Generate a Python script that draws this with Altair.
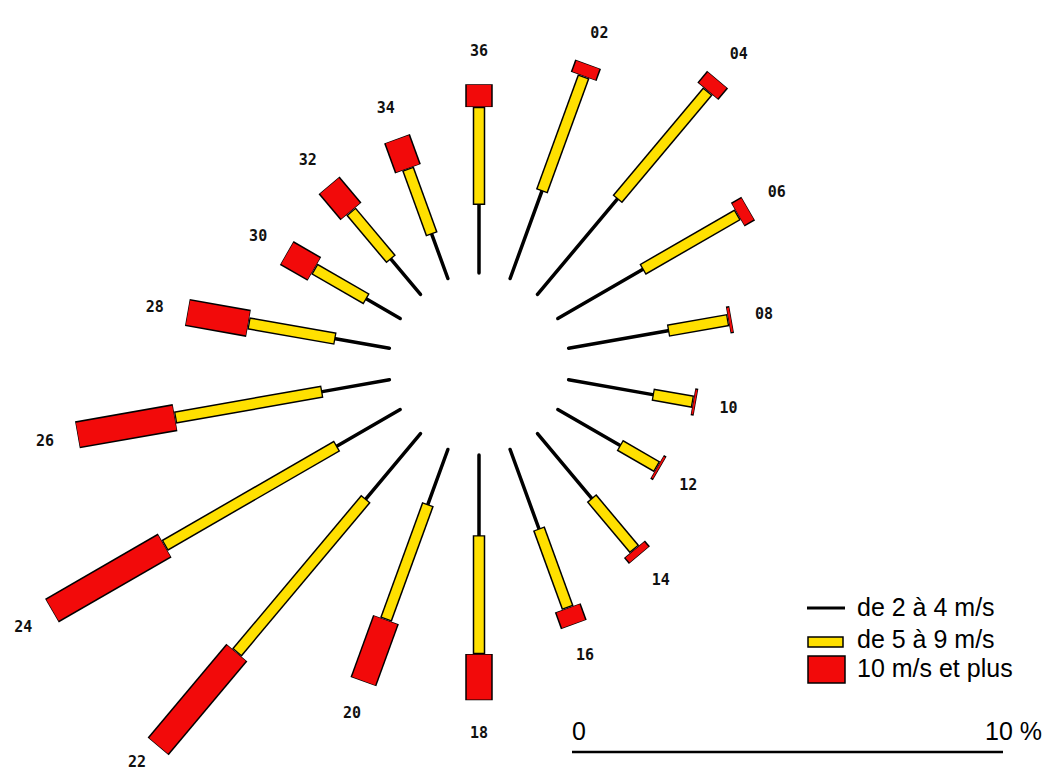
import altair as alt
import pandas as pd

# ---- data read from the wind rose (percent of observations) ----
DIRECTIONS = ["02", "04", "06", "08", "10", "12", "14", "16", "18",
              "20", "22", "24", "26", "28", "30", "32", "34", "36"]
ANGLES = [20, 40, 60, 80, 100, 120, 140, 160, 180,
          200, 220, 240, 260, 280, 300, 320, 340, 360]
# de 2 à 4 m/s
LOW = [2.15, 2.88, 2.27, 2.34, 1.98, 1.66, 1.95, 1.95, 1.86,
       1.35, 1.97, 1.69, 1.58, 1.27, 0.90, 1.06, 1.09, 1.58]
# de 5 à 9 m/s
MID = [2.84, 3.27, 2.55, 1.42, 0.95, 1.00, 1.55, 1.96, 2.76,
       2.85, 4.66, 4.62, 3.47, 2.05, 1.40, 1.45, 1.62, 2.27]
# 10 m/s et plus
HIGH = [0.30, 0.35, 0.28, 0.08, 0.07, 0.07, 0.18, 0.41, 1.07,
        1.53, 2.84, 3.02, 2.30, 1.44, 0.74, 0.79, 0.74, 0.53]

LEGEND_LABELS = ["de 2 à 4 m/s", "de 5 à 9 m/s", "10 m/s et plus"]
SCALE_LABELS = ["0", "10 %"]
SCALE_LENGTH = 10  # percent

# ---- layout constants ----
PX = 43.1             # pixels per percent
INNER = 91 / PX       # radius of the empty central circle (percent units)
LABEL_GAP = 33 / PX
D = 1.3 / PX          # outline thickness at bar ends
W, H = 1035, 766
XMIN = -471 / PX
XMAX = XMIN + W / PX
YMAX = 356 / PX
YMIN = YMAX - H / PX
LABEL_FLOOR = YMIN + 12 / PX   # keep direction labels inside the drawing

YELLOW = "#FFE000"
RED = "#F20A0A"

xs = alt.Scale(domain=[XMIN, XMAX], nice=False, zero=False)
ys = alt.Scale(domain=[YMIN, YMAX], nice=False, zero=False)

df = pd.DataFrame({"dir": DIRECTIONS, "angle": ANGLES,
                   "low": LOW, "mid": MID, "high": HIGH})

base = alt.Chart(df).transform_calculate(
    t="datum.angle * PI / 180",
    r1=f"{INNER} + datum.low",
).transform_calculate(
    r2="datum.r1 + datum.mid",
).transform_calculate(
    r3="datum.r2 + datum.high",
)


def seg(a, b, width, color, d0=0.0, d1=0.0, cap="butt"):
    return base.transform_calculate(
        xa=f"({a} + {d0}) * sin(datum.t)",
        ya=f"({a} + {d0}) * cos(datum.t)",
        xb=f"({b} - {d1}) * sin(datum.t)",
        yb=f"({b} - {d1}) * cos(datum.t)",
    ).mark_rule(strokeWidth=width, color=color, strokeCap=cap).encode(
        x=alt.X("xa:Q", scale=xs, axis=None),
        y=alt.Y("ya:Q", scale=ys, axis=None),
        x2="xb:Q",
        y2="yb:Q",
    )


low_line = seg(f"{INNER}", "datum.r1", 3.5, "black", cap="round")
mid_out = seg("datum.r1", "datum.r2", 12.5, "black")
mid_fill = seg("datum.r1", "datum.r2", 9.5, YELLOW, D, D)
high_out = seg("datum.r2", "datum.r3", 27.5, "black")
high_fill = seg("datum.r2", "datum.r3", 24.5, RED, D * 0.5, D * 0.5)

labels = base.transform_calculate(
    xl=f"(datum.r3 + {LABEL_GAP}) * sin(datum.t)",
    yl=f"max({LABEL_FLOOR}, (datum.r3 + {LABEL_GAP}) * cos(datum.t))",
).mark_text(font="DejaVu Sans Mono", fontWeight="bold", fontSize=15,
            align="center", baseline="middle", color="#111").encode(
    x=alt.X("xl:Q", scale=xs, axis=None),
    y=alt.Y("yl:Q", scale=ys, axis=None),
    text="dir:N",
)

# ---- scale bar ----
X0 = (572 - 479) / PX
YS = (364 - 752) / PX
scale_df = pd.DataFrame({"start": [X0], "end": [X0 + SCALE_LENGTH], "y": [YS]})
scale_line = alt.Chart(scale_df).mark_rule(strokeWidth=2.5, color="black").encode(
    x=alt.X("start:Q", scale=xs, axis=None),
    x2="end:Q",
    y=alt.Y("y:Q", scale=ys, axis=None),
)
scale_text_df = pd.DataFrame({"label": SCALE_LABELS,
                              "x": [X0, X0 + SCALE_LENGTH + 39 / PX],
                              "y": [YS + 20 / PX] * 2})
scale_t0 = alt.Chart(scale_text_df.iloc[[0]]).mark_text(
    font="Liberation Sans", fontSize=25, align="left", baseline="middle", color="black"
).encode(x=alt.X("x:Q", scale=xs, axis=None), y=alt.Y("y:Q", scale=ys, axis=None), text="label:N")
scale_t1 = alt.Chart(scale_text_df.iloc[[1]]).mark_text(
    font="Liberation Sans", fontSize=25, align="right", baseline="middle", color="black"
).encode(x=alt.X("x:Q", scale=xs, axis=None), y=alt.Y("y:Q", scale=ys, axis=None), text="label:N")

# ---- legend (pixel positions) ----
one = alt.Chart(pd.DataFrame({"a": [0]}))
leg_line = one.mark_rule(strokeWidth=3, color="black").encode(
    x=alt.value(799), x2=alt.value(837), y=alt.value(600))
leg_y = one.mark_rect(fill=YELLOW, stroke="black", strokeWidth=1.5).encode(
    x=alt.value(800), x2=alt.value(835), y=alt.value(629), y2=alt.value(639))
leg_r = one.mark_rect(fill=RED, stroke="black", strokeWidth=1.5).encode(
    x=alt.value(800), x2=alt.value(837), y=alt.value(648), y2=alt.value(675))
leg_text_df = pd.DataFrame({"label": LEGEND_LABELS, "py": [600, 632, 661]})
leg_text = alt.Chart(leg_text_df).mark_text(
    font="Liberation Sans", fontSize=25, align="left", baseline="middle", color="black"
).encode(
    x=alt.value(849),
    y=alt.Y("py:Q", scale=alt.Scale(domain=[0, H], range=[0, H], nice=False, zero=False), axis=None),
    text="label:N",
)

chart = alt.layer(
    low_line, mid_out, mid_fill, high_out, high_fill, labels,
    scale_line, scale_t0, scale_t1,
    leg_line, leg_y, leg_r, leg_text,
).resolve_scale(y="independent").properties(
    width=W, height=H, padding=0, background="white",
    autosize=alt.AutoSizeParams(type="none"),
).configure_view(stroke=None)

chart.save("out.html", embed_options={"renderer": "svg", "actions": False})
